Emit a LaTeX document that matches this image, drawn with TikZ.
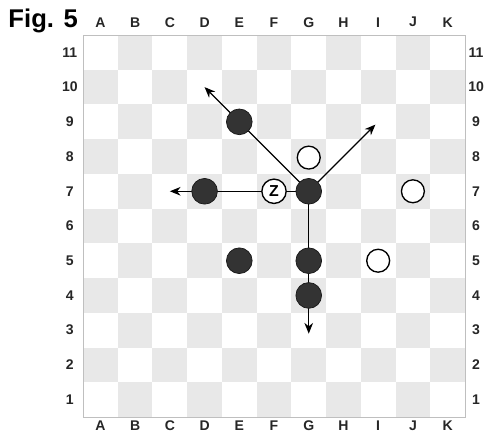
\documentclass[tikz,border=0pt]{standalone}
\usepackage{fontspec}
\setmainfont{Liberation Sans}
\usetikzlibrary{arrows.meta}
\pgfdeclarelayer{boardlayer}
\pgfdeclarelayer{linelayer}
\pgfsetlayers{boardlayer,linelayer,main}
\begin{document}
\begin{tikzpicture}[x=1cm,y=1cm,
  blackstone/.style={circle,fill=black!80,draw=black!90,line width=0.6pt,minimum size=0.74cm,inner sep=0pt},
  whitestone/.style={circle,fill=white,draw=black,line width=1.1pt,minimum size=0.66cm,inner sep=0pt},
  zstone/.style={whitestone,minimum size=0.70cm,font=\bfseries\fontsize{13}{13}\selectfont},
  move/.style={line width=0.95pt,-{Stealth[length=3.1mm,width=2.5mm]}},
  coordlabel/.style={font=\bfseries\fontsize{11.5}{11.5}\selectfont,inner sep=0pt,text=black!85},
  darksq/.style={fill=black!9}]
\useasboundingbox (-2.392,-0.548) rectangle (11.663,12.009);
\begin{pgfonlayer}{boardlayer}
  \foreach \c in {1,...,11}{
    \foreach \r in {1,...,11}{
      \pgfmathtruncatemacro{\sqparity}{mod(\c+\r,2)}
      \ifnum\sqparity=1
        \fill[darksq] (\c-1,\r-1) rectangle (\c,\r);
      \fi
    }
  }
  \draw[black!25,line width=0.4pt] (0,0) rectangle (11,11);
\end{pgfonlayer}
% labels
\node[font=\bfseries\fontsize{21}{21}\selectfont,inner sep=0pt] (fig) at (-1.15,11.40) {Fig. 5};
\foreach \l [count=\i] in {A,B,C,D,E,F,G,H,I,J,K}{
  \node[coordlabel] (top\l) at (\i-0.5,11.37) {\l};
  \node[coordlabel] (bot\l) at (\i-0.5,-0.25) {\l};
}
\foreach \r in {1,...,11}{
  \node[coordlabel] (left\r) at (-0.38,\r-0.5) {\r};
  \node[coordlabel] (right\r) at (11.32,\r-0.5) {\r};
}
% stones
\node[blackstone] (e9) at (4.5,8.5) {};
\node[blackstone] (d7) at (3.5,6.5) {};
\node[blackstone] (g7) at (6.5,6.5) {};
\node[blackstone] (e5) at (4.5,4.5) {};
\node[blackstone] (g5) at (6.5,4.5) {};
\node[blackstone] (g4) at (6.5,3.5) {};
\node[whitestone] (g8) at (6.5,7.47) {};
\node[whitestone] (j7) at (9.5,6.5) {};
\node[whitestone] (i5) at (8.5,4.5) {};
\node[zstone] (f7) at (5.5,6.5) {Z};
% arrow tips
\coordinate (tipNW) at (3.5,9.5);
\coordinate (tipNE) at (8.42,8.42);
\coordinate (tipW) at (2.5,6.5);
\coordinate (tipS) at (6.5,2.4);
\begin{pgfonlayer}{linelayer}
  \draw[move] (g7.center) -- (tipNW);
  \draw[move] (g7.center) -- (tipNE);
  \draw[move] (g7.center) -- (tipW);
  \draw[move] (g7.center) -- (tipS);
\end{pgfonlayer}
\end{tikzpicture}
\end{document}
